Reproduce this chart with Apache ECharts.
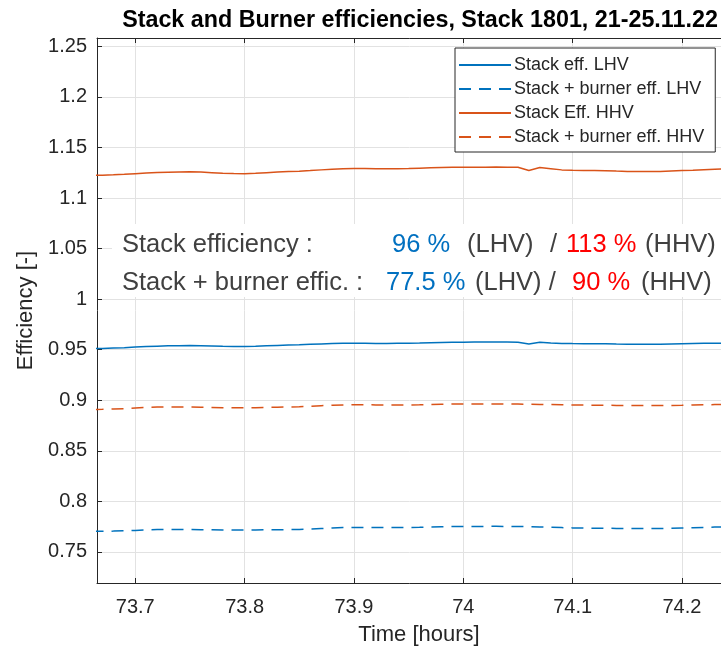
<!DOCTYPE html>
<html>
<head>
<meta charset="utf-8">
<script src="https://cdn.jsdelivr.net/npm/echarts@6/dist/echarts.min.js"></script>
<style>
  html, body { margin: 0; padding: 0; background: #ffffff; }
  #chart { width: 721px; height: 648px; }
</style>
</head>
<body>
<div id="chart"></div>
<script>
// Time stamps of the logged samples [hours]
const timeHours = [
  73.66, 73.67, 73.68, 73.69, 73.70, 73.71, 73.72, 73.73, 73.74, 73.75,
  73.76, 73.77, 73.78, 73.79, 73.80, 73.81, 73.82, 73.83, 73.84, 73.85,
  73.86, 73.87, 73.88, 73.89, 73.90, 73.91, 73.92, 73.93, 73.94, 73.95,
  73.96, 73.97, 73.98, 73.99, 74.00, 74.01, 74.02, 74.03, 74.04, 74.05,
  74.06, 74.07, 74.08, 74.09, 74.10, 74.11, 74.12, 74.13, 74.14, 74.15,
  74.16, 74.17, 74.18, 74.19, 74.20, 74.21, 74.22, 74.23, 74.24, 74.25,
  74.26
];

// Stack efficiency, lower heating value basis
const stackEffLHV = [
  0.9510, 0.9512, 0.9516, 0.9520, 0.9526, 0.9531, 0.9535, 0.9538, 0.9540, 0.9541,
  0.9540, 0.9537, 0.9534, 0.9532, 0.9532, 0.9534, 0.9538, 0.9542, 0.9546, 0.9549,
  0.9553, 0.9557, 0.9561, 0.9563, 0.9564, 0.9563, 0.9562, 0.9562, 0.9563, 0.9564,
  0.9566, 0.9569, 0.9571, 0.9573, 0.9574, 0.9575, 0.9575, 0.9576, 0.9575, 0.9574,
  0.9557, 0.9573, 0.9567, 0.9562, 0.9560, 0.9559, 0.9559, 0.9558, 0.9556, 0.9555,
  0.9554, 0.9554, 0.9555, 0.9557, 0.9559, 0.9561, 0.9563, 0.9564, 0.9565, 0.9566,
  0.9566
];

// Stack + burner efficiency, lower heating value basis
const stackBurnerEffLHV = [
  0.7704, 0.7705, 0.7706, 0.7709, 0.7713, 0.7718, 0.7721, 0.7722, 0.7722, 0.7721,
  0.7720, 0.7719, 0.7718, 0.7717, 0.7717, 0.7718, 0.7719, 0.7720, 0.7721, 0.7723,
  0.7727, 0.7732, 0.7737, 0.7741, 0.7743, 0.7743, 0.7742, 0.7741, 0.7741, 0.7742,
  0.7744, 0.7747, 0.7749, 0.7751, 0.7752, 0.7752, 0.7753, 0.7753, 0.7752, 0.7751,
  0.7750, 0.7747, 0.7744, 0.7741, 0.7738, 0.7736, 0.7735, 0.7734, 0.7733, 0.7732,
  0.7731, 0.7731, 0.7732, 0.7734, 0.7737, 0.7740, 0.7743, 0.7746, 0.7748, 0.7749,
  0.7750
];

// Stack efficiency, higher heating value basis
const stackEffHHV = [
  1.1223, 1.1226, 1.1229, 1.1234, 1.1240, 1.1246, 1.1251, 1.1255, 1.1258, 1.1259,
  1.1256, 1.1250, 1.1244, 1.1241, 1.1240, 1.1244, 1.1250, 1.1256, 1.1261, 1.1265,
  1.1271, 1.1278, 1.1285, 1.1290, 1.1292, 1.1291, 1.1290, 1.1289, 1.1290, 1.1292,
  1.1295, 1.1298, 1.1301, 1.1303, 1.1304, 1.1305, 1.1305, 1.1306, 1.1305, 1.1304,
  1.1272, 1.1302, 1.1290, 1.1278, 1.1274, 1.1273, 1.1272, 1.1270, 1.1266, 1.1263,
  1.1261, 1.1261, 1.1263, 1.1267, 1.1271, 1.1275, 1.1280, 1.1284, 1.1287, 1.1290,
  1.1291
];

// Stack + burner efficiency, higher heating value basis
const stackBurnerEffHHV = [
  0.8909, 0.8910, 0.8913, 0.8917, 0.8923, 0.8929, 0.8933, 0.8934, 0.8934, 0.8933,
  0.8931, 0.8929, 0.8927, 0.8926, 0.8926, 0.8927, 0.8929, 0.8931, 0.8933, 0.8936,
  0.8941, 0.8946, 0.8951, 0.8954, 0.8955, 0.8955, 0.8954, 0.8953, 0.8953, 0.8953,
  0.8955, 0.8958, 0.8960, 0.8962, 0.8963, 0.8963, 0.8964, 0.8964, 0.8963, 0.8962,
  0.8961, 0.8959, 0.8957, 0.8955, 0.8953, 0.8952, 0.8951, 0.8950, 0.8949, 0.8948,
  0.8947, 0.8947, 0.8947, 0.8948, 0.8950, 0.8953, 0.8955, 0.8957, 0.8958, 0.8959,
  0.8960
];

const seriesNames = [
  'Stack eff. LHV',
  'Stack + burner eff. LHV',
  'Stack Eff. HHV',
  'Stack + burner eff. HHV'
];

const xTicks = [73.7, 73.8, 73.9, 74.0, 74.1, 74.2];
const yTicks = [0.75, 0.8, 0.85, 0.9, 0.95, 1.0, 1.05, 1.1, 1.15, 1.2, 1.25];

const xRange = [73.665, 74.254];
const yRange = [0.7193, 1.2582];

const BLUE = '#0072BD';
const ORANGE = '#D95319';
const AXIS = '#262626';
const FONT = '"Liberation Sans", Arial, Helvetica, sans-serif';

const pairs = (vals) => timeHours.map((t, i) => [t, vals[i]]);
const tickFmt = (v) => String(Number(Number(v).toFixed(2)));

function lineSeries(name, vals, color, dashed) {
  return {
    name: name,
    type: 'line',
    data: pairs(vals),
    symbol: 'none',
    smooth: false,
    clip: true,
    lineStyle: { color: color, width: 1.5, type: dashed ? [12, 8] : 'solid' },
    itemStyle: { color: color },
    emphasis: { disabled: true }
  };
}

const chart = echarts.init(document.getElementById('chart'), null, { renderer: 'canvas' });

chart.setOption({
  animation: false,
  backgroundColor: '#ffffff',
  textStyle: { fontFamily: FONT },
  title: {
    text: 'Stack and Burner efficiencies, Stack 1801, 21-25.11.22',
    left: 415,
    textAlign: 'center',
    top: 4,
    textStyle: { fontFamily: FONT, fontSize: 23.3, fontWeight: 'bold', color: '#000000' }
  },
  grid: {
    left: 97, top: 38, right: -20, bottom: 65,
    containLabel: false,
    outerBoundsMode: 'none'
  },
  legend: {
    orient: 'vertical',
    left: 455,
    top: 48,
    padding: [8, 11, 6, 3],
    itemWidth: 52,
    itemHeight: 18,
    itemGap: 6,
    backgroundColor: '#ffffff',
    borderColor: AXIS,
    borderWidth: 1,
    borderRadius: 0,
    itemStyle: { opacity: 0 },
    textStyle: { fontFamily: FONT, fontSize: 18, color: AXIS, padding: [0, 0, 0, -2] },
    data: seriesNames
  },
  xAxis: [
    {
      type: 'value',
      min: xRange[0],
      max: xRange[1],
      position: 'bottom',
      name: 'Time [hours]',
      nameLocation: 'middle',
      nameGap: 41,
      nameTextStyle: { fontFamily: FONT, fontSize: 22, color: AXIS },
      axisLine: { show: true, lineStyle: { color: AXIS, width: 1 } },
      axisTick: { show: true, inside: true, length: 5, customValues: xTicks, lineStyle: { color: AXIS } },
      axisLabel: { customValues: xTicks, formatter: tickFmt, fontFamily: FONT, fontSize: 20, color: AXIS, margin: 14 },
      splitLine: { show: true, lineStyle: { color: '#e2e2e2', width: 1 } }
    },
    {
      type: 'value',
      min: xRange[0],
      max: xRange[1],
      position: 'top',
      axisLine: { show: true, lineStyle: { color: AXIS, width: 1 } },
      axisTick: { show: true, inside: true, length: 5, customValues: xTicks, lineStyle: { color: AXIS } },
      axisLabel: { show: false },
      splitLine: { show: false }
    }
  ],
  yAxis: {
    type: 'value',
    min: yRange[0],
    max: yRange[1],
    name: 'Efficiency [-]',
    nameLocation: 'middle',
    nameGap: 52,
    nameTextStyle: { fontFamily: FONT, fontSize: 22, color: AXIS },
    axisLine: { show: true, lineStyle: { color: AXIS, width: 1 } },
    axisTick: { show: true, inside: true, length: 5, customValues: yTicks, lineStyle: { color: AXIS } },
    axisLabel: { customValues: yTicks, formatter: tickFmt, fontFamily: FONT, fontSize: 20, color: AXIS, margin: 10 },
    splitLine: { show: true, lineStyle: { color: '#e2e2e2', width: 1 } }
  },
  series: [
    lineSeries(seriesNames[0], stackEffLHV, BLUE, false),
    lineSeries(seriesNames[1], stackBurnerEffLHV, BLUE, true),
    lineSeries(seriesNames[2], stackEffHHV, ORANGE, false),
    lineSeries(seriesNames[3], stackBurnerEffHHV, ORANGE, true)
  ],
  graphic: [
    // White text box holding the summary of mean efficiencies
    { type: 'rect', shape: { x: 112, y: 224, width: 609, height: 73 }, style: { fill: '#ffffff' }, z: 5 },
    { type: 'text', x: 122, y: 245, z: 6, style: { text: 'Stack efficiency :', fill: '#404040', fontFamily: FONT, fontSize: 25.5, verticalAlign: 'middle' } },
    { type: 'text', x: 392, y: 245, z: 6, style: { text: '96 %', fill: '#0070C0', fontFamily: FONT, fontSize: 25.5, verticalAlign: 'middle' } },
    { type: 'text', x: 467, y: 245, z: 6, style: { text: '(LHV)', fill: '#404040', fontFamily: FONT, fontSize: 25.5, verticalAlign: 'middle' } },
    { type: 'text', x: 550, y: 245, z: 6, style: { text: '/', fill: '#404040', fontFamily: FONT, fontSize: 25.5, verticalAlign: 'middle' } },
    { type: 'text', x: 566, y: 245, z: 6, style: { text: '113 %', fill: '#FF0000', fontFamily: FONT, fontSize: 25.5, verticalAlign: 'middle' } },
    { type: 'text', x: 645, y: 245, z: 6, style: { text: '(HHV)', fill: '#404040', fontFamily: FONT, fontSize: 25.5, verticalAlign: 'middle' } },

    { type: 'text', x: 122, y: 283, z: 6, style: { text: 'Stack + burner effic. :', fill: '#404040', fontFamily: FONT, fontSize: 25.5, verticalAlign: 'middle' } },
    { type: 'text', x: 386, y: 283, z: 6, style: { text: '77.5 %', fill: '#0070C0', fontFamily: FONT, fontSize: 25.5, verticalAlign: 'middle' } },
    { type: 'text', x: 475, y: 283, z: 6, style: { text: '(LHV) /', fill: '#404040', fontFamily: FONT, fontSize: 25.5, verticalAlign: 'middle' } },
    { type: 'text', x: 572, y: 283, z: 6, style: { text: '90 %', fill: '#FF0000', fontFamily: FONT, fontSize: 25.5, verticalAlign: 'middle' } },
    { type: 'text', x: 641, y: 283, z: 6, style: { text: '(HHV)', fill: '#404040', fontFamily: FONT, fontSize: 25.5, verticalAlign: 'middle' } }
  ]
});
</script>
</body>
</html>
